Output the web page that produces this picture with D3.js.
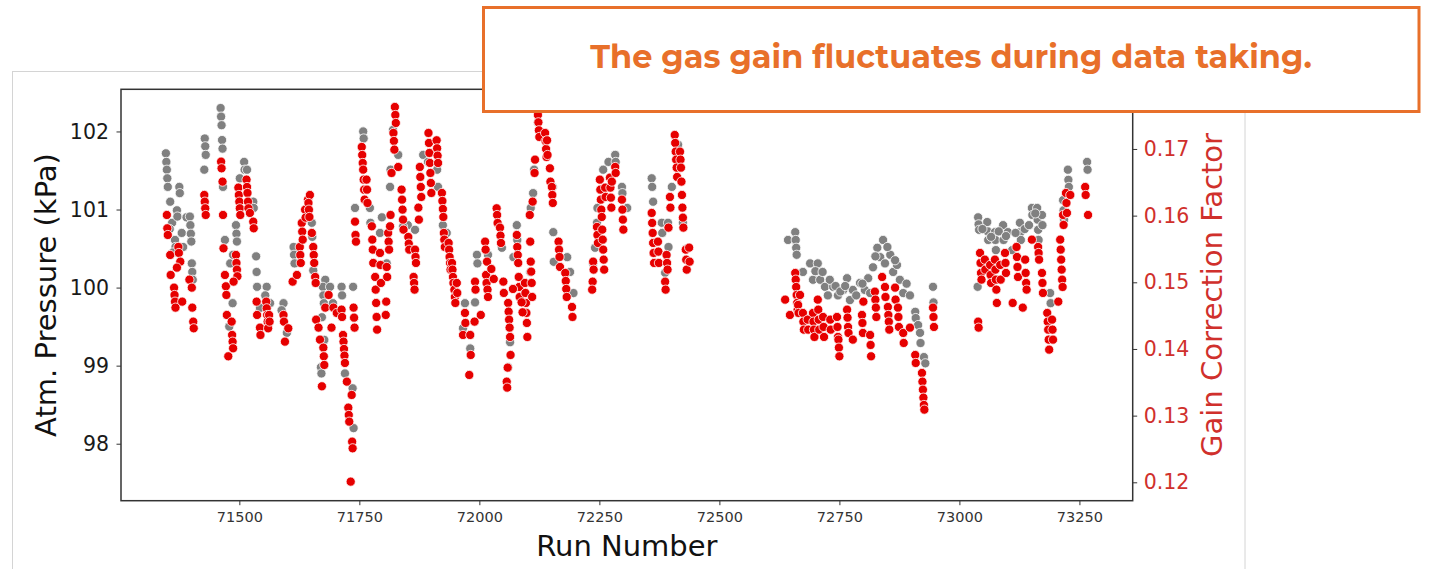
<!DOCTYPE html>
<meta charset="utf-8">
<style>

body {
  margin: 0;
  background: #fff;
}

.axis text {
  font-family: "DejaVu Sans", sans-serif;
}

.label {
  font: 29px "DejaVu Sans", sans-serif;
  text-anchor: middle;
}

.callout {
  font-family: Montserrat, "Open Sans", sans-serif;
  font-weight: 700;
  fill: #e8702a;
  text-anchor: middle;
}

</style>
<svg width="1435" height="569"></svg>
<script src="https://cdn.jsdelivr.net/npm/d3@7"></script>
<script>

// grey points: atmospheric pressure (left axis)
var greyRuns = [
  71347, 71348, 71349, 71350, 71351, 71356, 71360, 71366, 71367, 71370, 71371, 71375, 71376, 71383,
  71355, 71362, 71380, 71390,
  71397, 71398, 71399, 71400, 71401, 71402, 71403, 71427, 71428, 71429, 71430,
  71461, 71462, 71463, 71464, 71465, 71466, 71470, 71481, 71486, 71479, 71493, 71494, 71495, 71487,
  71501, 71510, 71511, 71516, 71529, 71530, 71535, 71536, 71537, 71557, 71554, 71543, 71564,
  71592, 71588, 71599, 71613, 71614, 71615, 71651, 71652, 71654, 71679, 71674, 71675, 71676,
  71689, 71672, 71677, 71670, 71671, 71713, 71714, 71737, 71695, 71720, 71736, 71738, 71739,
  71741, 71758, 71759, 71772, 71773, 71797, 71793, 71807, 71814, 71815, 71820, 71831, 71851,
  71841, 71866, 71883, 71893, 71912, 71914, 71924, 71932, 71933, 71970, 71991, 71966, 71981,
  71995, 71996, 72018, 72047, 72078, 72079, 72071, 72064, 72060, 72106, 72112, 72107, 72114,
  72122, 72153, 72154, 72155, 72183, 72189, 72196, 72237, 72241, 72245, 72246, 72258, 72269,
  72283, 72284, 72297, 72298, 72308, 72359, 72360, 72362, 72380, 72381, 72393, 72394, 72387,
  72414, 72401, 72424, 72432,
  72643, 72658, 72659, 72660, 72661, 72674, 72689, 72705, 72695, 72710, 72720, 72726, 72737,
  72747, 72758, 72766, 72772, 72778, 72793, 72803, 72810, 72814, 72820, 72829, 72841, 72835,
  72845, 72856, 72862, 72870, 72876, 72883, 72897, 72908, 72909, 72914, 72918, 72919, 72926,
  72929, 72945, 72946,
  72700, 72715, 72730, 72742, 72752, 72762, 72785, 72798, 72825, 72850, 72866, 72890,
  73038, 73039, 73040, 73041, 73058, 73059, 73060, 73074, 73075, 73076, 73091, 73092, 73101,
  73110, 73126, 73127, 73128, 73151, 73152, 73162, 73163, 73164, 73165, 73172, 73173, 73189,
  73190, 73216, 73217, 73218, 73226, 73227, 73228, 73266, 73267,
  73048, 73066, 73082, 73097, 73117, 73136, 73145, 73158
];

var pressure = [
  101.72, 101.61, 101.51, 101.40, 101.29, 101.10, 100.83, 100.61, 100.52, 100.99, 100.91, 101.29, 101.21, 100.52,
  100.75, 100.45, 100.70, 100.90,
  100.91, 100.80, 100.69, 100.59, 100.31, 100.20, 100.10, 101.51, 101.91, 101.81, 101.70,
  102.30, 102.19, 102.08, 101.89, 101.78, 101.29, 100.61, 100.31, 99.80, 99.50, 100.80, 100.69, 100.59, 100.42,
  101.40, 101.61, 101.51, 101.51, 101.10, 101.02, 100.40, 100.20, 100.01, 100.01, 99.90, 99.74, 99.80,
  99.80, 99.71, 99.42, 100.52, 100.42, 100.31, 100.83, 100.65, 100.22, 100.10, 100.01, 99.90, 99.80,
  100.01, 99.62, 99.33, 98.98, 98.90, 100.01, 99.90, 100.01, 99.80, 98.90, 98.71, 98.20, 99.61,
  101.02, 102.00, 101.91, 101.02, 100.83, 100.90, 100.70, 100.31, 101.29, 101.51, 102.02, 101.70, 100.80,
  100.78, 100.74, 101.70, 101.61, 101.51, 101.29, 100.80, 100.70, 100.51, 99.80, 99.81, 99.48, 99.22,
  100.42, 100.31, 100.42, 100.51, 100.80, 100.61, 100.39, 99.30, 98.98, 100.20, 101.21, 101.02, 101.51,
  102.11, 101.29, 100.71, 100.33, 100.39, 100.20, 99.93, 100.31, 100.51, 100.83, 101.02, 101.51, 101.61,
  101.70, 101.61, 101.29, 101.21, 101.02, 101.40, 101.29, 101.10, 100.83, 100.70, 100.83, 100.52, 100.19,
  101.83, 101.29, 100.83, 100.50,
  100.61, 100.71, 100.61, 100.51, 100.42, 100.20, 100.31, 100.31, 100.10, 100.10, 100.01, 99.90, 100.01,
  99.90, 99.97, 100.12, 99.84, 99.97, 100.06, 99.97, 100.12, 99.93, 100.26, 100.51, 100.61, 100.39,
  100.31, 100.42, 100.20, 100.29, 100.10, 99.93, 99.90, 99.69, 99.61, 99.52, 99.42, 99.29, 99.11,
  99.03, 100.01, 99.81,
  100.21, 100.20, 100.10, 100.02, 99.95, 100.02, 99.90, 100.05, 100.40, 100.52, 100.35, 100.05,
  100.01, 100.90, 100.81, 100.74, 100.84, 100.72, 100.61, 100.71, 100.61, 100.48, 100.80, 100.61, 100.71,
  100.48, 100.83, 100.71, 100.61, 101.02, 100.93, 101.02, 100.87, 100.74, 100.61, 100.93, 100.80, 99.93,
  99.80, 101.12, 100.99, 100.87, 101.51, 101.38, 101.29, 101.61, 101.51,
  100.75, 100.65, 100.72, 100.66, 100.70, 100.75, 100.80, 100.95
];

// red points: gain correction factor (right axis)
var redRuns = [
  71349, 71350, 71351, 71356, 71357, 71364, 71365, 71366, 71367, 71373, 71374, 71377, 71370, 71381,
  71396, 71401, 71402, 71404, 71405, 71427, 71428, 71429, 71430, 71462, 71463, 71465, 71466, 71467,
  71470, 71472, 71473, 71474, 71484, 71485, 71486, 71487, 71477, 71493, 71494, 71495, 71496, 71488,
  71498, 71499, 71500, 71501, 71502, 71515, 71516, 71517, 71518, 71519, 71522, 71529, 71530,
  71536, 71537, 71543, 71544, 71556, 71557, 71558, 71559, 71560, 71562, 71563, 71592, 71593,
  71602, 71595, 71611, 71620,
  71626, 71627, 71628, 71630, 71631, 71632, 71637, 71638, 71643, 71647, 71644, 71645, 71646,
  71651, 71654, 71655, 71656, 71658, 71659, 71660, 71665, 71668, 71675, 71676, 71677, 71672,
  71686, 71679, 71696, 71703, 71713, 71714, 71692, 71716, 71717, 71718, 71719, 71720, 71724,
  71734, 71727, 71728, 71729, 71735, 71736, 71732, 71738, 71739, 71740, 71741, 71742, 71743,
  71755, 71756, 71757, 71758, 71759, 71760, 71761, 71765, 71766, 71767, 71776, 71777, 71778,
  71779, 71783, 71784, 71785, 71786, 71787, 71793, 71794, 71795, 71807, 71808, 71806, 71805,
  71810, 71811, 71812, 71814, 71815, 71824, 71825, 71826, 71821, 71822, 71823, 71831, 71817,
  71838, 71839, 71840, 71841, 71842, 71852, 71853, 71854, 71866, 71867, 71868, 71863, 71864,
  71865, 71876, 71877, 71878, 71879, 71873, 71874, 71894, 71895, 71896, 71897, 71898, 71911,
  71912, 71913, 71914, 71899, 71900, 71922, 71923, 71924, 71925, 71926, 71927, 71928, 71936,
  71937, 71938, 71939, 71940, 71943, 71944, 71945, 71946, 71948, 71949, 71950, 71953, 71954,
  71970, 71971, 71966, 71981, 71982, 71979, 71991, 71992, 71990, 72003, 72012, 72013, 72016,
  72014, 72015, 72017, 72018, 72036, 72037, 72038, 72043, 72044, 72045, 72050, 72051, 72060,
  72061, 72062, 72063, 72064, 72065, 72059, 72057, 72058, 72078, 72079, 72080, 72081, 72082,
  72083, 72084, 72095, 72096, 72097, 72098, 72099, 72100, 72106, 72107, 72108, 72109, 72110,
  72105, 72111, 72116, 72115, 72122, 72123, 72124, 72125, 72137, 72138, 72139, 72140, 72141,
  72142, 72147, 72148, 72151, 72152, 72153, 72165, 72166, 72167, 72168, 72179, 72180, 72181,
  72182, 72193, 72194, 72237, 72238, 72236, 72235, 72245, 72246, 72247, 72251, 72252, 72253,
  72254, 72255, 72262, 72263, 72272, 72273, 72274, 72275, 72256, 72257, 72258, 72259, 72260,
  72283, 72284, 72276, 72297, 72298, 72299, 72300, 72359, 72360, 72361, 72362, 72363, 72364,
  72372, 72373, 72374, 72387, 72388, 72390, 72391, 72392, 72394, 72397, 72398, 72407, 72408,
  72409, 72410, 72411, 72412, 72418, 72419, 72420, 72421, 72422, 72423, 72424, 72425, 72430,
  72431, 72432, 72437, 72438,
  72025, 72030, 72070, 72088, 72090,
  72637, 72647, 72658, 72659, 72660, 72661, 72662, 72663, 72668, 72664, 72665, 72674, 72675,
  72676, 72684, 72685, 72695, 72696, 72697, 72698, 72705, 72706, 72707, 72708, 72716, 72717,
  72718, 72731, 72732, 72745, 72746, 72747, 72748, 72749, 72750, 72766, 72767, 72768, 72769,
  72778, 72797, 72798, 72799, 72800, 72814, 72815, 72816, 72824, 72825, 72826, 72827, 72839,
  72845, 72846, 72851, 72852, 72853, 72854, 72866, 72867, 72872, 72873, 72874, 72883, 72884,
  72897, 72908, 72909, 72922, 72923, 72924, 72925, 72926, 72927, 72945, 72946, 72947,
  73039, 73040, 73043, 73044, 73045, 73046, 73053, 73054, 73064, 73065, 73066, 73074, 73075,
  73076, 73077, 73078, 73085, 73086, 73095, 73096, 73097, 73111, 73132, 73119, 73120, 73121,
  73122, 73137, 73138, 73139, 73140, 73151, 73164, 73165, 73166, 73172, 73173, 73174, 73183,
  73184, 73185, 73186, 73187, 73193, 73194, 73195, 73206, 73210, 73211, 73212, 73213, 73214,
  73215, 73216, 73217, 73222, 73223, 73224, 73231, 73262, 73263, 73268
];

var gain = [
  0.1601, 0.1581, 0.1571, 0.1541, 0.1511, 0.1492, 0.1481, 0.1471, 0.1462, 0.1553, 0.1544, 0.1531, 0.1522, 0.1471,
  0.1504, 0.1492, 0.1462, 0.1441, 0.1431, 0.1631, 0.1621, 0.1611, 0.1601, 0.1681, 0.1671, 0.1651, 0.1601, 0.1551,
  0.1511, 0.1494, 0.1481, 0.1451, 0.1441, 0.1421, 0.1411, 0.1401, 0.1389, 0.1541, 0.1529, 0.1519, 0.1509, 0.1501,
  0.1642, 0.1631, 0.1621, 0.1611, 0.1601, 0.1654, 0.1643, 0.1634, 0.1621, 0.1611, 0.1604, 0.1591, 0.1581,
  0.1471, 0.1451, 0.1432, 0.1421, 0.1471, 0.1461, 0.1451, 0.1441, 0.1431, 0.1451, 0.1441, 0.1451, 0.1441,
  0.1431, 0.1411, 0.1501, 0.1511,
  0.1553, 0.1541, 0.1529, 0.1589, 0.1576, 0.1564, 0.1609, 0.1597, 0.1624, 0.1631, 0.1619, 0.1609, 0.1598,
  0.1574, 0.1553, 0.1541, 0.1529, 0.1508, 0.1499, 0.1444, 0.1432, 0.1414, 0.1402, 0.1389, 0.1376, 0.1344,
  0.1481, 0.1462, 0.1462, 0.1454, 0.1459, 0.1448, 0.1432, 0.1421, 0.1411, 0.1400, 0.1390, 0.1379, 0.1351,
  0.1331, 0.1312, 0.1301, 0.1291, 0.1261, 0.1251, 0.1201, 0.1462, 0.1447, 0.1432, 0.1591, 0.1571, 0.1561,
  0.1703, 0.1691, 0.1679, 0.1669, 0.1654, 0.1639, 0.1624, 0.1654, 0.1639, 0.1619, 0.1584, 0.1564, 0.1549,
  0.1529, 0.1508, 0.1489, 0.1469, 0.1448, 0.1429, 0.1544, 0.1526, 0.1499, 0.1523, 0.1508, 0.1471, 0.1451,
  0.1574, 0.1561, 0.1549, 0.1584, 0.1601, 0.1763, 0.1751, 0.1739, 0.1724, 0.1712, 0.1699, 0.1673, 0.1664,
  0.1639, 0.1624, 0.1609, 0.1594, 0.1579, 0.1568, 0.1558, 0.1549, 0.1549, 0.1538, 0.1529, 0.1508, 0.1499,
  0.1489, 0.1673, 0.1658, 0.1643, 0.1628, 0.1612, 0.1594, 0.1724, 0.1709, 0.1694, 0.1679, 0.1664, 0.1713,
  0.1701, 0.1690, 0.1679, 0.1649, 0.1634, 0.1634, 0.1622, 0.1610, 0.1598, 0.1574, 0.1564, 0.1553, 0.1559,
  0.1549, 0.1538, 0.1529, 0.1519, 0.1529, 0.1519, 0.1508, 0.1499, 0.1489, 0.1478, 0.1469, 0.1499, 0.1484,
  0.1454, 0.1439, 0.1421, 0.1421, 0.1391, 0.1361, 0.1501, 0.1489, 0.1441, 0.1451, 0.1561, 0.1549, 0.1531,
  0.1511, 0.1499, 0.1489, 0.1478, 0.1611, 0.1601, 0.1589, 0.1582, 0.1570, 0.1559, 0.1501, 0.1484, 0.1469,
  0.1456, 0.1444, 0.1432, 0.1418, 0.1391, 0.1372, 0.1351, 0.1342, 0.1571, 0.1553, 0.1541, 0.1529, 0.1508,
  0.1493, 0.1478, 0.1499, 0.1484, 0.1469, 0.1454, 0.1439, 0.1418, 0.1561, 0.1531, 0.1516, 0.1499, 0.1478,
  0.1601, 0.1621, 0.1684, 0.1664, 0.1751, 0.1740, 0.1728, 0.1718, 0.1724, 0.1712, 0.1700, 0.1688, 0.1713,
  0.1691, 0.1671, 0.1651, 0.1643, 0.1631, 0.1619, 0.1561, 0.1549, 0.1538, 0.1523, 0.1514, 0.1502, 0.1490,
  0.1478, 0.1463, 0.1448, 0.1531, 0.1519, 0.1501, 0.1489, 0.1583, 0.1571, 0.1559, 0.1654, 0.1639, 0.1624,
  0.1609, 0.1598, 0.1642, 0.1628, 0.1657, 0.1642, 0.1627, 0.1612, 0.1579, 0.1564, 0.1549, 0.1534, 0.1519,
  0.1673, 0.1664, 0.1651, 0.1624, 0.1609, 0.1594, 0.1579, 0.1604, 0.1589, 0.1574, 0.1559, 0.1544, 0.1529,
  0.1561, 0.1546, 0.1529, 0.1501, 0.1489, 0.1541, 0.1529, 0.1519, 0.1582, 0.1628, 0.1612, 0.1721, 0.1709,
  0.1696, 0.1684, 0.1672, 0.1658, 0.1696, 0.1684, 0.1672, 0.1651, 0.1631, 0.1612, 0.1597, 0.1582, 0.1549,
  0.1534, 0.1519, 0.1552, 0.1531,
  0.1520, 0.1505, 0.1490, 0.1470, 0.1455,
  0.1474, 0.1451, 0.1514, 0.1504, 0.1493, 0.1481, 0.1469, 0.1459, 0.1481, 0.1466, 0.1454, 0.1454, 0.1441,
  0.1429, 0.1444, 0.1429, 0.1454, 0.1441, 0.1429, 0.1418, 0.1474, 0.1459, 0.1444, 0.1429, 0.1448, 0.1433,
  0.1418, 0.1444, 0.1429, 0.1448, 0.1433, 0.1418, 0.1414, 0.1402, 0.1389, 0.1459, 0.1447, 0.1433, 0.1424,
  0.1414, 0.1451, 0.1439, 0.1424, 0.1471, 0.1421, 0.1406, 0.1389, 0.1486, 0.1474, 0.1462, 0.1448, 0.1508,
  0.1493, 0.1478, 0.1463, 0.1451, 0.1441, 0.1429, 0.1492, 0.1474, 0.1462, 0.1448, 0.1433, 0.1424, 0.1409,
  0.1432, 0.1391, 0.1379, 0.1364, 0.1351, 0.1339, 0.1327, 0.1316, 0.1309, 0.1462, 0.1448, 0.1433,
  0.1441, 0.1432, 0.1544, 0.1529, 0.1514, 0.1504, 0.1534, 0.1519, 0.1526, 0.1511, 0.1499, 0.1534, 0.1519,
  0.1504, 0.1489, 0.1469, 0.1526, 0.1504, 0.1544, 0.1529, 0.1514, 0.1469, 0.1462, 0.1553, 0.1538, 0.1523,
  0.1508, 0.1534, 0.1514, 0.1499, 0.1489, 0.1564, 0.1553, 0.1544, 0.1534, 0.1514, 0.1499, 0.1484, 0.1454,
  0.1441, 0.1429, 0.1414, 0.1399, 0.1444, 0.1429, 0.1414, 0.1471, 0.1564, 0.1549, 0.1534, 0.1519, 0.1504,
  0.1493, 0.1601, 0.1586, 0.1634, 0.1619, 0.1604, 0.1631, 0.1643, 0.1631, 0.1601
];

var runTicks = [71500, 71750, 72000, 72250, 72500, 72750, 73000, 73250],
    pressureTicks = [98, 99, 100, 101, 102],
    gainTicks = [0.12, 0.13, 0.14, 0.15, 0.16, 0.17];

var greyData = greyRuns.map(function(r, i) { return {run: r, value: pressure[i]}; }),
    redData = redRuns.map(function(r, i) { return {run: r, value: gain[i]}; });

var svg = d3.select("svg");

var margin = {top: 89.3, right: 302.3, bottom: 68.3, left: 121},
    width = +svg.attr("width") - margin.left - margin.right,
    height = +svg.attr("height") - margin.top - margin.bottom;

var x = d3.scaleLinear().domain([71253.5, 73361]).range([0, width]),
    yLeft = d3.scaleLinear().domain([97.27, 102.54]).range([height, 0]),
    yRight = d3.scaleLinear().domain([0.11724, 0.17895]).range([height, 0]);

var red = "#d0302c";

// frame of the pasted picture on the slide
svg.append("rect")
    .attr("x", 12.5)
    .attr("y", 71.5)
    .attr("width", 1232.5)
    .attr("height", 520)
    .attr("fill", "none")
    .attr("stroke", "#d4d4d4")
    .attr("stroke-width", 1);

var g = svg.append("g")
    .attr("transform", "translate(" + margin.left + "," + margin.top + ")");

g.append("g")
    .attr("class", "axis")
    .attr("transform", "translate(0," + height + ")")
    .call(d3.axisBottom(x).tickValues(runTicks).tickFormat(d3.format("d")).tickSize(4.5).tickPadding(7))
    .call(function(a) {
      a.select(".domain").remove();
      a.selectAll("line").attr("stroke", "#333");
      a.selectAll("text").attr("font-size", 14.5).attr("fill", "#333");
    });

g.append("g")
    .attr("class", "axis")
    .call(d3.axisLeft(yLeft).tickValues(pressureTicks).tickFormat(d3.format("d")).tickSize(4.5).tickPadding(7.5))
    .call(function(a) {
      a.select(".domain").remove();
      a.selectAll("line").attr("stroke", "#333");
      a.selectAll("text").attr("font-size", 20.5).attr("fill", "#1a1a1a");
    });

g.append("g")
    .attr("class", "axis")
    .attr("transform", "translate(" + width + ",0)")
    .call(d3.axisRight(yRight).tickValues(gainTicks).tickFormat(d3.format(".2f")).tickSize(4.5).tickPadding(6.5))
    .call(function(a) {
      a.select(".domain").remove();
      a.selectAll("line").attr("stroke", "#333");
      a.selectAll("text").attr("font-size", 20.5).attr("fill", red);
    });

g.append("g")
  .selectAll("circle")
  .data(greyData)
  .enter().append("circle")
    .attr("cx", function(d) { return x(d.run); })
    .attr("cy", function(d) { return yLeft(d.value); })
    .attr("r", 4.6)
    .attr("fill", "#808080")
    .attr("stroke", "#fff")
    .attr("stroke-width", 0.8);

g.append("g")
  .selectAll("circle")
  .data(redData)
  .enter().append("circle")
    .attr("cx", function(d) { return x(d.run); })
    .attr("cy", function(d) { return yRight(d.value); })
    .attr("r", 4.6)
    .attr("fill", "#e60000")
    .attr("stroke", "#fff")
    .attr("stroke-width", 0.8);

g.append("rect")
    .attr("width", width)
    .attr("height", height)
    .attr("fill", "none")
    .attr("stroke", "#333")
    .attr("stroke-width", 1.5);

g.append("text")
    .attr("class", "label")
    .attr("x", width / 2)
    .attr("y", height + 55)
    .attr("fill", "#111")
    .text("Run Number");

g.append("text")
    .attr("class", "label")
    .attr("transform", "translate(" + (56 - margin.left) + "," + height / 2 + ")rotate(-90)")
    .attr("fill", "#111")
    .text("Atm. Pressure (kPa)");

g.append("text")
    .attr("class", "label")
    .attr("transform", "translate(" + (1222 - margin.left) + "," + height / 2 + ")rotate(-90)")
    .attr("fill", red)
    .text("Gain Correction Factor");

// callout box
svg.append("rect")
    .attr("x", 483.5)
    .attr("y", 7.5)
    .attr("width", 935.5)
    .attr("height", 104)
    .attr("fill", "#fff")
    .attr("stroke", "#e8702a")
    .attr("stroke-width", 3);

var callout = svg.append("text")
    .attr("class", "callout")
    .attr("x", 951)
    .attr("y", 68)
    .attr("font-size", 30)
    .text("The gas gain fluctuates during data taking.");

var w = callout.node().getComputedTextLength();
callout.attr("font-size", 30 * 722 / w);

</script>
